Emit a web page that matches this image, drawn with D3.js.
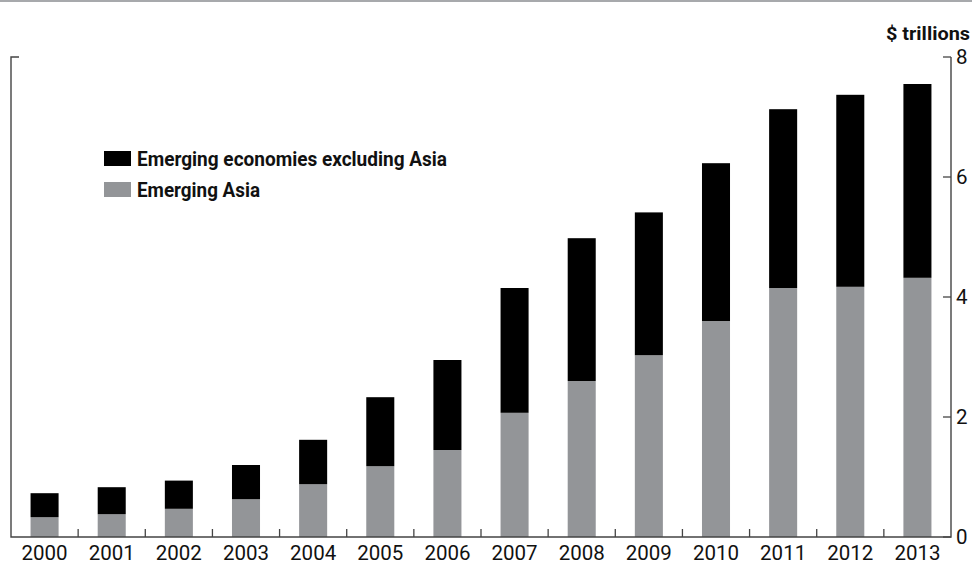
<!DOCTYPE html>
<html>
<head>
<meta charset="utf-8">
<script src="https://cdn.jsdelivr.net/npm/d3@7"></script>
<style>
  body { margin: 0; background: #fff; }
  svg { display: block; }
  text { font-family: Roboto, "DejaVu Sans Condensed", sans-serif; }
</style>
</head>
<body>
<div id="chart"></div>
<script>
// data ($ trillions)
const years = ["2000", "2001", "2002", "2003", "2004", "2005", "2006",
               "2007", "2008", "2009", "2010", "2011", "2012", "2013"];
const emergingAsia = [0.33, 0.38, 0.47, 0.63, 0.88, 1.18, 1.45,
                      2.07, 2.60, 3.03, 3.60, 4.15, 4.17, 4.32];
const excludingAsia = [0.40, 0.45, 0.47, 0.57, 0.74, 1.15, 1.50,
                       2.08, 2.38, 2.38, 2.63, 2.98, 3.20, 3.23];
const yTicks = [0, 2, 4, 6, 8];

const seriesNames = ["Emerging economies excluding Asia", "Emerging Asia"];
const seriesColors = { "Emerging Asia": "#939598", "Emerging economies excluding Asia": "#000000" };
// the original uses a condensed face, so squeeze labels to its widths
const legendWidths = [310, 123];

const width = 972, height = 565;
const plotLeft = 11, plotRight = 951, plotTop = 57, plotBottom = 537;
const axisColor = "#444";

const svg = d3.select("#chart").append("svg")
    .attr("width", width)
    .attr("height", height);

// rule across the top
svg.append("line")
    .attr("x1", 0).attr("x2", width)
    .attr("y1", 1).attr("y2", 1)
    .attr("stroke", "#a7a9ac")
    .attr("stroke-width", 2);

const x = d3.scaleBand()
    .domain(years)
    .range([plotLeft, plotRight])
    .paddingInner(0.5825)
    .paddingOuter(0.29125);

const y = d3.scaleLinear()
    .domain([0, 8])
    .range([plotBottom, plotTop]);

// stacked bars
const rows = years.map((yr, i) => ({
    year: yr,
    "Emerging Asia": emergingAsia[i],
    "Emerging economies excluding Asia": excludingAsia[i]
}));
const stack = d3.stack().keys(["Emerging Asia", "Emerging economies excluding Asia"]);
const layers = stack(rows);

svg.append("g").selectAll("g")
    .data(layers)
    .enter().append("g")
    .attr("fill", d => seriesColors[d.key])
    .selectAll("rect")
    .data(d => d)
    .enter().append("rect")
    .attr("x", d => x(d.data.year))
    .attr("width", x.bandwidth())
    .attr("y", d => y(d[1]))
    .attr("height", d => y(d[0]) - y(d[1]));

// right axis
const yAxis = svg.append("g")
    .attr("transform", `translate(${plotRight},0)`)
    .call(d3.axisRight(y).tickValues(yTicks).tickSize(0).tickPadding(5));
yAxis.select(".domain").remove();
yAxis.selectAll("text")
    .attr("font-size", 20.5)
    .attr("fill", "#111")
    .style("font-family", "Roboto, sans-serif");

// tick marks pointing inward on right axis
svg.append("g").selectAll("line")
    .data(yTicks)
    .enter().append("line")
    .attr("x1", plotRight - 8).attr("x2", plotRight)
    .attr("y1", d => y(d)).attr("y2", d => y(d))
    .attr("stroke", axisColor)
    .attr("stroke-width", 1.3);

// frame: left, right and bottom lines
svg.append("path")
    .attr("d", `M${plotLeft + 8},${plotTop}H${plotLeft}V${plotBottom}H${plotRight}V${plotTop}`)
    .attr("fill", "none")
    .attr("stroke", axisColor)
    .attr("stroke-width", 1.4);

// bottom axis ticks between bars
const boundaries = years.slice(1).map(yr => x(yr) - x.step() * x.paddingInner() / 2);
svg.append("g").selectAll("line")
    .data(boundaries)
    .enter().append("line")
    .attr("x1", d => d).attr("x2", d => d)
    .attr("y1", plotBottom - 8).attr("y2", plotBottom)
    .attr("stroke", axisColor)
    .attr("stroke-width", 1.3);

// year labels
svg.append("g").selectAll("text")
    .data(years)
    .enter().append("text")
    .attr("x", d => x(d) + x.bandwidth() / 2)
    .attr("y", 560)
    .attr("text-anchor", "middle")
    .attr("font-size", 20.5)
    .attr("fill", "#111")
    .text(d => d);

// unit label
svg.append("text")
    .attr("x", 970)
    .attr("y", 40)
    .attr("text-anchor", "end")
    .attr("font-size", 19)
    .attr("font-weight", "bold")
    .attr("fill", "#111")
    .attr("textLength", 84)
    .attr("lengthAdjust", "spacingAndGlyphs")
    .text("$ trillions");

// legend
const legend = svg.append("g")
    .selectAll("g")
    .data(seriesNames)
    .enter().append("g")
    .attr("transform", (d, i) => `translate(104,${151 + i * 31})`);
legend.append("rect")
    .attr("width", 27)
    .attr("height", 15)
    .attr("fill", d => seriesColors[d]);
legend.append("text")
    .attr("x", 33)
    .attr("y", 15)
    .attr("font-size", 20)
    .attr("font-weight", "bold")
    .attr("fill", "#111")
    .attr("textLength", (d, i) => legendWidths[i])
    .attr("lengthAdjust", "spacingAndGlyphs")
    .text(d => d);
</script>
</body>
</html>
